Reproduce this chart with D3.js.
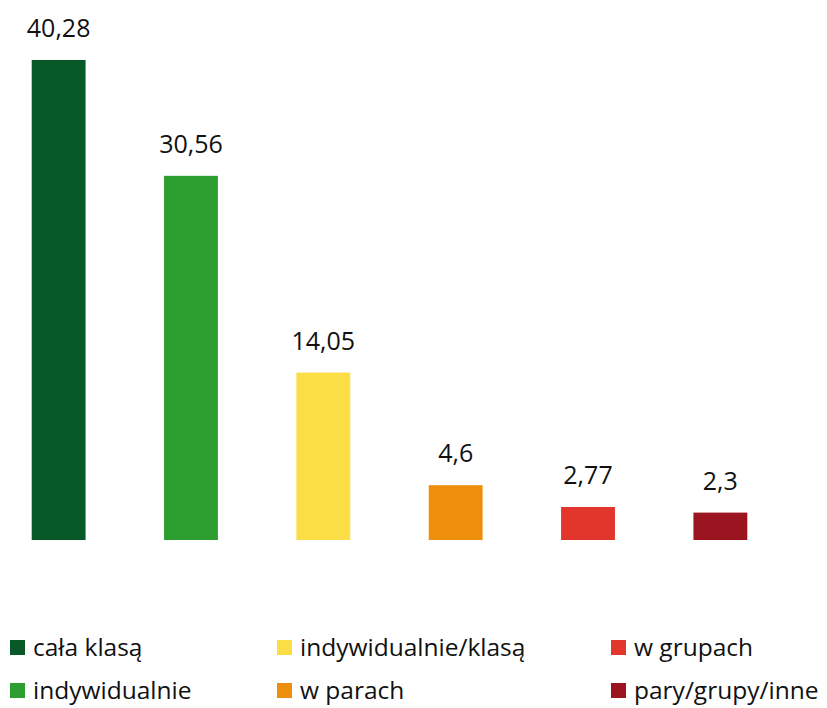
<!DOCTYPE html>
<html><head><meta charset="utf-8">
<script src="https://d3js.org/d3.v7.min.js"></script>
<style>body{margin:0;background:#fff}</style>
</head><body>
<script>
const categories = ["cała klasą","indywidualnie","indywidualnie/klasą","w parach","w grupach","pary/grupy/inne"];
const values = [40.28, 30.56, 14.05, 4.6, 2.77, 2.3];
const labels = ["40,28","30,56","14,05","4,6","2,77","2,3"];
const colors = ["#075a27","#2c9e30","#fbdd45","#ee8e0d","#e2352b","#9b1520"];
const legendOrder = [0,1,2,3,4,5];

const W = 827, H = 708;
const svg = d3.select("body").append("svg").attr("width", W).attr("height", H);
const font = "'Open Sans', sans-serif";

const x = d3.scaleBand().domain(categories).range([-8, 787]).paddingInner(0.593).paddingOuter(0.3);
const y = d3.scaleLinear().domain([0, 40.28]).range([540, 60]);

svg.selectAll("rect.bar").data(categories).enter().append("rect")
  .attr("class","bar")
  .attr("x", d => x(d)).attr("width", x.bandwidth())
  .attr("y", (d,i) => y(values[i])).attr("height", (d,i) => y(0) - y(values[i]))
  .attr("fill", (d,i) => colors[i]);

svg.selectAll("text.val").data(categories).enter().append("text")
  .attr("class","val")
  .attr("x", d => x(d) + x.bandwidth()/2)
  .attr("y", (d,i) => y(values[i]) - 23)
  .attr("text-anchor","middle")
  .attr("font-family", font).attr("font-size", 25).attr("fill","#111")
  .text((d,i) => labels[i]);

const colX = [10, 277, 611];
const rowY = [648, 691];
const lg = svg.selectAll("g.lg").data(legendOrder).enter().append("g")
  .attr("transform", (d,i) => `translate(${colX[Math.floor(i/2)]},${rowY[i%2]})`);
lg.append("rect").attr("x",0).attr("y",-8).attr("width",15).attr("height",15)
  .attr("fill", d => colors[d]);
lg.append("text").attr("x",23).attr("y",8)
  .attr("font-family", font).attr("font-size", 24.5).attr("fill","#111")
  .text(d => categories[d]);
</script>
</body></html>
